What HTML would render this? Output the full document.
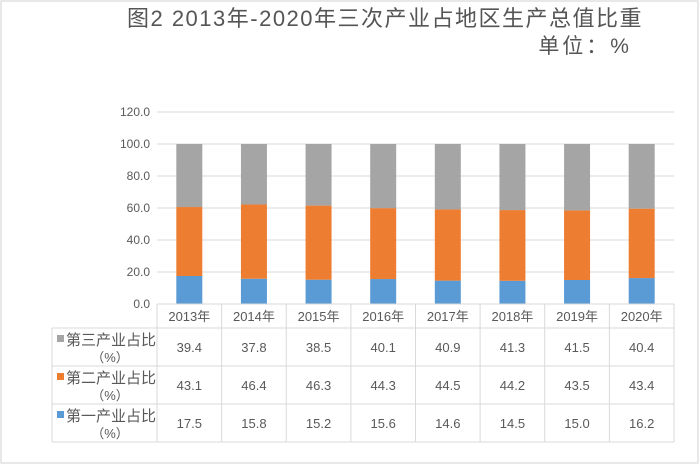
<!DOCTYPE html>
<html><head><meta charset="utf-8"><style>
body{margin:0;background:#fff}
svg{display:block;font-family:"Liberation Sans","Noto Sans CJK SC",sans-serif}
</style></head><body>
<svg id="c" width="700" height="465">
<rect x="1" y="1" width="697" height="462" fill="#fff" stroke="#d0d0d0"/>
<text x="385" y="26" text-anchor="middle" font-size="22" letter-spacing="1.5" fill="#555">图2 2013年-2020年三次产业占地区生产总值比重</text>
<text x="632" y="53" text-anchor="end" font-size="21" letter-spacing="3" fill="#555">单位：%</text>
<g id="grid"></g><g id="bars"></g><g id="table"></g>
</svg>
<script>
const categories=["2013年","2014年","2015年","2016年","2017年","2018年","2019年","2020年"];
const primary=[17.5,15.8,15.2,15.6,14.6,14.5,15.0,16.2];
const secondary=[43.1,46.4,46.3,44.3,44.5,44.2,43.5,43.4];
const tertiary=[39.4,37.8,38.5,40.1,40.9,41.3,41.5,40.4];
const yTicks=[0,20,40,60,80,100,120];
const NS="http://www.w3.org/2000/svg";
const L=157,R=674,Y0=304,Y120=112;
const y=v=>Y0-(v/120)*(Y0-Y120);
const cw=(R-L)/categories.length;
const x=i=>L+cw*(i+0.5);
function mk(t,a,p,txt){const e=document.createElementNS(NS,t);for(const k in a)e.setAttribute(k,a[k]);if(txt!==undefined)e.textContent=txt;p.appendChild(e);return e;}
const grid=document.getElementById('grid'),bars=document.getElementById('bars'),tb=document.getElementById('table');
yTicks.forEach(v=>{
 const l=mk('line',{x1:L,x2:R,y1:y(v),y2:y(v),stroke:'#d9d9d9'},grid);
 
 
 const t=mk('text',{x:150,y:y(v)+4,'text-anchor':'end','font-size':12,fill:'#595959'},grid,v.toFixed(1));
 
 
});
const series=[[primary,'#5b9bd5','primary'],[secondary,'#ed7d31','secondary'],[tertiary,'#a5a5a5','tertiary']];
const bw=26;
categories.forEach((c,i)=>{
 let base=0;
 series.forEach(([arr,col,n])=>{
  const v=arr[i];
  const r=mk('rect',{x:x(i)-bw/2,y:y(base+v),width:bw,height:y(base)-y(base+v),fill:col},bars);
  
  
  base+=v;
 });
});
const rows=[328,366,404,442];
const ln=(a,b,c,d)=>{const e=mk('line',{x1:a,y1:b,x2:c,y2:d,stroke:'#d9d9d9'},tb);};
ln(L,Y0,R,Y0);
rows.forEach(r=>ln(52,r,R,r));
ln(52,328,52,442);
for(let i=0;i<=categories.length;i++)ln(L+cw*i,Y0,L+cw*i,442);
categories.forEach((c,i)=>{
 const t=mk('text',{x:x(i),y:321,'text-anchor':'middle','font-size':13,fill:'#595959'},tb,c);
 
 
});
const trows=[[tertiary,'#a5a5a5','第三产业占比'],[secondary,'#ed7d31','第二产业占比'],[primary,'#5b9bd5','第一产业占比']];
trows.forEach(([arr,col,name],ri)=>{
 const top=rows[ri];
 const sw=mk('rect',{x:57,y:top+7,width:7,height:7,fill:col},tb);
 
 
 const t1=mk('text',{x:66,y:top+17,'font-size':15,fill:'#595959'},tb,name);
 
 
 const t2=mk('text',{x:110,y:top+34,'text-anchor':'middle','font-size':13,fill:'#595959'},tb,'（%）');
 
 
 arr.forEach((v,i)=>{
  const t=mk('text',{x:x(i),y:top+24,'text-anchor':'middle','font-size':13,fill:'#595959'},tb,v.toFixed(1));
  
  
 });
});
</script>
</body></html>
